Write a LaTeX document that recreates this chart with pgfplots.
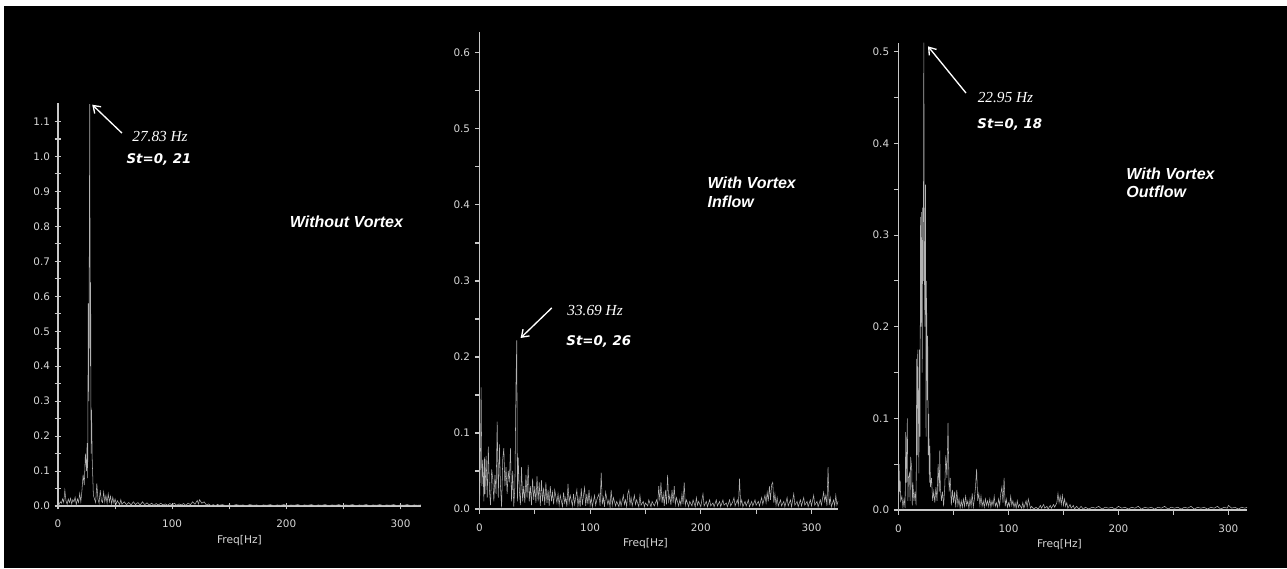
\documentclass[border=0pt]{standalone}
\usepackage{pgfplots}
\pgfplotsset{compat=1.18}
\usetikzlibrary{arrows.meta}
\usepackage{fontspec}
\setmainfont{Liberation Sans}
\newfontfamily\tickfont{DejaVu Sans}
\newfontfamily\serifit{Liberation Serif}

\definecolor{axgray}{RGB}{200,200,200}
\definecolor{datagray}{RGB}{178,178,178}
\definecolor{labgray}{RGB}{215,215,215}

\pgfplotsset{
  spec/.style={
    scale only axis,
    anchor=south west,
    axis x line*=bottom,
    axis y line*=left,
    axis line style={axgray, line width=1pt, -},
    xmin=0, ymin=0,
    enlargelimits=false,
    clip=false,
    scaled ticks=false,
    xtick={0,100,200,300},
    minor xtick={50,150,250},
    tick style={axgray, line width=0.8pt},
    ticklabel style={font=\tickfont\fontsize{7.8}{8}\selectfont, text=labgray,
      /pgf/number format/assume math mode=true},
    xticklabel style={yshift=-4pt},
    yticklabel style={/pgf/number format/fixed, /pgf/number format/fixed zerofill,
      /pgf/number format/precision=1},
    xlabel={Freq[Hz]},
    xlabel style={font=\tickfont\fontsize{8}{9}\selectfont, text=labgray,
      at={(axis description cs:0.5,0)}, anchor=center, yshift=-26pt},
    cycle list={{datagray, line width=1.05pt}},
    no markers,
  },
}
\tikzset{
  arr/.style={white, line width=1pt, -{Straight Barb[length=5pt,width=7pt]}},
  hz/.style={anchor=west, text=white, font=\serifit\itshape\fontsize{11.5}{12}\selectfont},
  st/.style={anchor=west, text=white, font=\tickfont\bfseries\itshape\fontsize{10}{12}\selectfont},
  ttl/.style={anchor=west, text=white, align=left, font=\bfseries\itshape\fontsize{12}{14}\selectfont},
}

\begin{document}
\begin{tikzpicture}
\useasboundingbox (0pt,0pt) rectangle (965.25pt,426pt);
\fill[white] (0pt,0pt) rectangle (965.25pt,426pt);
\fill[black] (3pt,0pt) rectangle (965.25pt,421.5pt);

% ---------- without vortex
\begin{axis}[spec,
  at={(43.5pt,46.5pt)}, width=272.25pt, height=302.25pt,
  xmax=318, ymax=1.153,
  ytick={0,0.1,0.2,0.3,0.4,0.5,0.6,0.7,0.8,0.9,1.0,1.1},
  minor y tick num=1,
  tick align=center, major tick length=5pt, minor tick length=5pt,
]
\addplot coordinates {
(0,0.000)(1,0.005)(2,0.012)(3,0.008)(4,0.020)(5,0.010)(6,0.045)(7,0.015)(8,0.005)(9,0.020)
(10,0.010)(11,0.022)(12,0.006)(13,0.018)(14,0.012)(15,0.025)(16,0.004)(17,0.020)(18,0.010)(19,0.036)
(20,0.012)(21,0.045)(22,0.090)(23,0.060)(24,0.150)(25,0.100)(25.5,0.180)(26,0.080)(26.5,0.580)(27,0.300)
(27.8,1.150)(28.3,0.400)(28.6,0.640)(29,0.150)(29.4,0.275)(30,0.130)(31,0.030)(32,0.020)(33,0.010)(34,0.065)
(35,0.020)(36,0.008)(37,0.045)(38,0.015)(39,0.010)(40,0.040)(41,0.012)(42,0.030)(43,0.008)(44,0.035)
(45,0.012)(46,0.028)(47,0.006)(48,0.025)(49,0.008)(50,0.020)(51,0.006)(52,0.015)(54,0.004)(55,0.018)
(56,0.005)(58,0.012)(60,0.004)(62,0.010)(64,0.003)(66,0.012)(68,0.004)(70,0.010)(72,0.003)(74,0.012)
(76,0.004)(78,0.009)(80,0.003)(82,0.008)(84,0.002)(86,0.007)(88,0.003)(90,0.008)(92,0.003)(94,0.006)
(96,0.002)(98,0.007)(100,0.003)(102,0.008)(104,0.002)(106,0.006)(108,0.003)(110,0.007)(112,0.002)(114,0.008)
(116,0.004)(118,0.012)(120,0.005)(122,0.016)(123,0.006)(124,0.018)(126,0.008)(128,0.012)(130,0.003)(132,0.006)
(134,0.001)(136,0.004)(138,0.001)(140,0.005)(141,0.002)(144,0.004)(147,0.001)(150,0.003)(153,0.001)(156,0.004)
(159,0.002)(162,0.003)(165,0.001)(168,0.004)(171,0.002)(174,0.003)(177,0.001)(180,0.003)(183,0.002)(186,0.004)
(189,0.001)(192,0.003)(195,0.002)(198,0.004)(201,0.001)(204,0.003)(207,0.002)(210,0.004)(213,0.001)(216,0.003)
(219,0.002)(222,0.004)(225,0.001)(228,0.003)(231,0.002)(234,0.004)(237,0.001)(240,0.003)(243,0.002)(246,0.004)
(249,0.001)(252,0.003)(255,0.002)(258,0.004)(261,0.001)(264,0.003)(267,0.002)(270,0.004)(273,0.001)(276,0.003)
(279,0.002)(282,0.004)(285,0.001)(288,0.003)(291,0.002)(294,0.004)(297,0.001)(300,0.003)(303,0.002)(306,0.004)
(309,0.001)(312,0.003)(315,0.002)(318,0.003)
};
\draw[arr] (56,1.067) -- (30,1.148);
\node[hz] at (61,1.056) {27.83 Hz};
\node[st] at (56,0.99) {St=0, 21};
\node[ttl] at (199,0.813) {Without Vortex};
\end{axis}

% ---------- with vortex, inflow
\begin{axis}[spec,
  at={(359.6pt,44.25pt)}, width=268.9pt, height=358pt,
  xmax=324, ymax=0.628,
  ytick={0,0.1,0.2,0.3,0.4,0.5,0.6},
  minor y tick num=1,
  tick align=outside, major tick length=3.5pt, minor tick length=3.5pt,
  xlabel style={xshift=-10pt},
]
\addplot coordinates {
(0,0.000)(0.8,0.060)(1.5,0.160)(2.2,0.030)(3,0.065)(4,0.010)(4.5,0.068)(5,0.020)(6,0.070)(7,0.015)
(8,0.082)(9,0.025)(10,0.005)(11,0.052)(12,0.040)(13,0.010)(14,0.045)(15,0.020)(16,0.115)(17,0.015)
(18,0.085)(19,0.030)(20,0.002)(21,0.065)(22,0.080)(23,0.030)(24,0.055)(25,0.020)(26,0.050)(27,0.035)
(28,0.080)(29,0.010)(30,0.050)(31,0.003)(32,0.030)(33,0.165)(33.7,0.222)(34.3,0.010)(35,0.068)(36,0.025)
(37,0.005)(38,0.055)(39,0.010)(40,0.030)(41,0.008)(42,0.045)(43,0.015)(44,0.058)(45,0.010)(46,0.030)
(47,0.005)(48,0.040)(49,0.012)(50,0.030)(51,0.008)(52,0.043)(53,0.010)(54,0.035)(55,0.004)(56,0.038)
(57,0.010)(58,0.028)(59,0.005)(60,0.035)(61,0.008)(62,0.025)(63,0.004)(64,0.030)(65,0.010)(66,0.022)
(67,0.006)(68,0.025)(70,0.008)(71,0.020)(72,0.005)(73,0.018)(75,0.003)(76,0.022)(77,0.008)(78,0.015)
(79,0.003)(80,0.033)(81,0.008)(82,0.018)(84,0.004)(85,0.020)(86,0.006)(88,0.025)(89,0.004)(90,0.015)
(91,0.003)(92,0.027)(93,0.005)(94,0.018)(95,0.028)(96,0.004)(97,0.020)(98,0.006)(99,0.025)(100,0.005)
(101,0.015)(102,0.003)(104,0.018)(105,0.005)(106,0.012)(108,0.020)(109,0.004)(110,0.048)(111,0.006)(112,0.015)
(113,0.003)(114,0.022)(116,0.006)(117,0.012)(118,0.003)(119,0.025)(120,0.005)(121,0.015)(123,0.004)(124,0.010)
(126,0.003)(127,0.012)(128,0.004)(130,0.018)(131,0.006)(132,0.012)(133,0.003)(134,0.020)(135,0.025)(136,0.006)
(137,0.015)(138,0.004)(140,0.018)(141,0.006)(142,0.012)(144,0.003)(145,0.018)(146,0.005)(148,0.010)(149,0.003)
(150,0.008)(152,0.004)(153,0.012)(155,0.003)(156,0.010)(158,0.004)(160,0.012)(161,0.005)(162,0.030)(163,0.010)
(164,0.035)(165,0.008)(166,0.020)(167,0.004)(168,0.025)(169,0.006)(170,0.045)(171,0.010)(172,0.018)(173,0.005)
(174,0.025)(175,0.008)(176,0.030)(177,0.006)(178,0.015)(180,0.004)(181,0.012)(182,0.005)(183,0.020)(184,0.006)
(185,0.035)(186,0.005)(187,0.012)(189,0.003)(190,0.010)(192,0.004)(193,0.012)(195,0.003)(196,0.015)(197,0.005)
(198,0.010)(200,0.003)(201,0.012)(202,0.020)(203,0.004)(205,0.010)(206,0.003)(208,0.012)(209,0.004)(211,0.008)
(212,0.003)(214,0.012)(215,0.004)(217,0.010)(218,0.003)(220,0.012)(221,0.005)(223,0.008)(224,0.003)(226,0.012)
(227,0.004)(229,0.010)(230,0.015)(231,0.004)(233,0.012)(234,0.005)(235,0.040)(236,0.006)(237,0.012)(238,0.003)
(240,0.010)(241,0.004)(243,0.012)(244,0.003)(246,0.010)(247,0.004)(249,0.012)(250,0.005)(252,0.010)(253,0.004)
(255,0.015)(256,0.006)(258,0.018)(259,0.008)(260,0.022)(261,0.010)(262,0.030)(263,0.012)(264,0.032)(265,0.035)
(266,0.008)(267,0.020)(268,0.005)(269,0.015)(270,0.004)(272,0.012)(273,0.004)(275,0.010)(276,0.003)(278,0.015)
(279,0.004)(281,0.012)(282,0.003)(284,0.020)(285,0.005)(287,0.010)(288,0.003)(290,0.012)(291,0.004)(293,0.015)
(294,0.005)(296,0.010)(297,0.003)(299,0.012)(300,0.004)(302,0.018)(303,0.005)(305,0.010)(306,0.003)(308,0.012)
(309,0.005)(311,0.022)(312,0.010)(313,0.018)(314,0.004)(315,0.055)(316,0.005)(317,0.015)(318,0.003)(320,0.012)
(321,0.004)(322,0.018)(323,0.005)(324,0.010)
};
\draw[arr] (65.3,0.2645) -- (37.2,0.225);
\node[hz] at (75.2,0.261) {33.69 Hz};
\node[st] at (74.3,0.22) {St=0, 26};
\node[ttl] at (202,0.417) {With Vortex\\Inflow};
\end{axis}

% ---------- with vortex, outflow
\begin{axis}[spec,
  at={(673.9pt,43.5pt)}, width=261.4pt, height=350.5pt,
  xmax=317, ymax=0.51,
  ytick={0,0.1,0.2,0.3,0.4,0.5},
  minor y tick num=1,
  tick align=outside, major tick length=3.5pt, minor tick length=3.5pt,
  xlabel style={xshift=-10pt},
]
\addplot coordinates {
(0,0.000)(0.5,0.050)(1,0.020)(1.5,0.032)(2,0.010)(3,0.015)(4,0.003)(5,0.012)(6,0.002)(6.5,0.085)
(7,0.030)(8,0.100)(8.5,0.010)(9,0.035)(10,0.040)(10.5,0.010)(11,0.058)(12,0.045)(12.5,0.005)(13,0.030)
(14,0.010)(15,0.020)(16,0.005)(16.5,0.165)(17,0.060)(17.5,0.175)(18,0.120)(18.5,0.040)(19,0.175)(19.5,0.080)
(20,0.320)(20.5,0.200)(21,0.325)(21.5,0.150)(22,0.330)(22.5,0.250)(23,0.510)(23.5,0.260)(24,0.200)(24.5,0.355)
(25,0.080)(25.5,0.250)(26,0.120)(26.5,0.190)(27,0.060)(27.5,0.105)(28,0.030)(28.5,0.070)(29,0.025)(30,0.035)
(31,0.010)(32,0.020)(33,0.008)(34,0.025)(35,0.010)(36,0.050)(37,0.020)(37.5,0.065)(38,0.025)(39,0.010)
(40,0.020)(41,0.004)(42,0.025)(43,0.060)(44,0.035)(45,0.095)(46,0.020)(47,0.035)(48,0.005)(49,0.022)
(50,0.008)(51,0.020)(52,0.003)(53,0.022)(54,0.005)(55,0.012)(56,0.002)(57,0.010)(58,0.003)(59,0.012)
(60,0.004)(61,0.015)(62,0.005)(63,0.010)(64,0.002)(65,0.012)(66,0.004)(67,0.018)(68,0.003)(69,0.012)
(70,0.025)(71,0.045)(72,0.010)(73,0.018)(74,0.005)(75,0.015)(76,0.004)(77,0.010)(78,0.003)(79,0.012)
(80,0.005)(81,0.010)(82,0.004)(83,0.012)(84,0.003)(85,0.010)(86,0.005)(87,0.015)(88,0.004)(89,0.008)
(90,0.003)(91,0.012)(92,0.005)(93,0.018)(94,0.025)(95,0.008)(96,0.035)(97,0.004)(98,0.012)(99,0.003)
(100,0.008)(101,0.004)(102,0.015)(103,0.005)(104,0.010)(105,0.003)(106,0.008)(107,0.002)(108,0.010)(109,0.003)
(110,0.006)(112,0.002)(113,0.008)(114,0.002)(116,0.010)(117,0.003)(118,0.012)(120,0.002)(121,0.004)(123,0.001)
(125,0.003)(127,0.001)(129,0.005)(130,0.002)(132,0.006)(133,0.002)(135,0.004)(136,0.001)(138,0.005)(139,0.002)
(141,0.006)(142,0.003)(144,0.008)(145,0.018)(146,0.008)(147,0.015)(148,0.006)(149,0.016)(150,0.005)(151,0.012)
(152,0.004)(153,0.008)(154,0.002)(156,0.006)(157,0.002)(159,0.005)(160,0.001)(162,0.004)(164,0.001)(166,0.004)
(168,0.001)(170,0.003)(173,0.001)(176,0.003)(179,0.002)(182,0.004)(185,0.001)(188,0.003)(191,0.002)(194,0.003)
(197,0.001)(200,0.004)(203,0.002)(206,0.003)(209,0.001)(212,0.003)(215,0.002)(218,0.004)(221,0.001)(224,0.003)
(227,0.002)(230,0.003)(233,0.001)(236,0.003)(239,0.002)(242,0.004)(245,0.001)(248,0.003)(251,0.002)(254,0.003)
(257,0.001)(260,0.003)(263,0.002)(266,0.004)(269,0.001)(272,0.003)(275,0.002)(278,0.003)(281,0.001)(284,0.003)
(287,0.002)(290,0.004)(293,0.001)(296,0.003)(299,0.002)(300,0.005)(303,0.002)(306,0.003)(309,0.001)(312,0.003)
(315,0.002)(317,0.003)
};
\draw[arr] (61.4,0.455) -- (26.8,0.506);
\node[hz] at (67.8,0.4506) {22.95 Hz};
\node[st] at (67.5,0.421) {St=0, 18};
\node[ttl] at (203,0.357) {With Vortex\\Outflow};
\end{axis}
\end{tikzpicture}
\end{document}
